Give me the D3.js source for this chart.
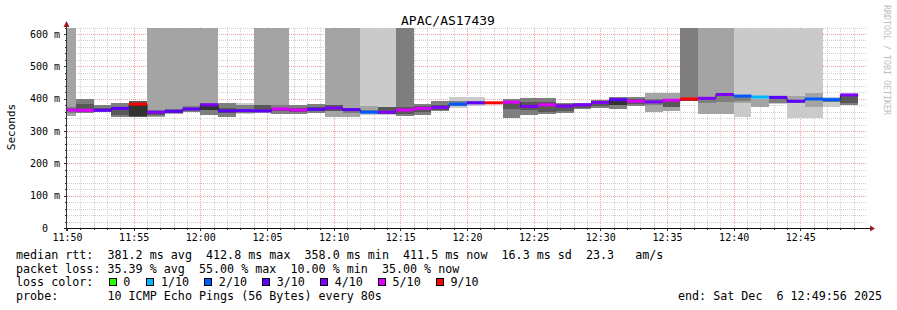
<!doctype html>
<html>
<head>
<meta charset="utf-8">
<script src="https://cdn.jsdelivr.net/npm/d3@7"></script>
<style>
  body {margin:0; background:#fff;}
  svg {display:block;}
  text {font-family:"DejaVu Sans Mono", monospace; fill:#000;}
  .pre {white-space:pre;}
</style>
</head>
<body>
<svg width="897" height="310"></svg>
<script>
// one sample every 80 s, the first one ends at 11:50:40
var median = [365, 364, 364, 370, 383, 358, 361, 368, 381, 362,
              363, 362, 368, 365, 367, 371, 366, 358, 358, 365,
              370, 373, 383, 387, 387, 389, 376, 381, 377, 381,
              388, 397, 392, 390, 395, 399, 401, 412.8, 408, 405,
              404, 392, 399, 397, 411.5];
var loss = [5, 5, 3, 3, 9, 4, 3, 3, 4, 3,
            3, 3, 5, 5, 3, 4, 3, 2, 4, 5,
            5, 4, 2, 3, 9, 5, 4, 5, 4, 4,
            4, 3, 5, 4, 5, 9, 4, 4, 2, 1,
            3, 3, 2, 2, 4];
// smoke bands per sample: [band, low ms, high ms]; band 0 is the outer one
var smoke = [
  [[1,345,700],[2,355,375]],
  [[2,357,399],[3,360,383]],
  [[2,358,380],[3,362,370]],
  [[2,344,388],[3,348,372]],
  [[3,342,394],[4,345,384]],
  [[1,342,700],[2,346,365],[3,350,362]],
  [[1,352,700],[2,355,369],[3,357,366]],
  [[1,358,700],[2,360,378]],
  [[1,349,700],[2,349,388],[4,366,380]],
  [[2,342,388],[3,355,372]],
  [[0,353,388],[2,357,380]],
  [[1,355,700],[3,358,381]],
  [[1,353,700],[2,353,381],[3,362,372]],
  [[2,352,380],[3,358,372]],
  [[2,356,383],[3,362,375]],
  [[1,342,700],[3,362,380]],
  [[1,342,700],[2,355,372]],
  [[0,350,700],[1,355,377],[2,357,365]],
  [[0,350,700],[3,354,373]],
  [[2,347,700],[3,352,375]],
  [[2,348,384],[3,358,378]],
  [[2,361,392],[3,366,380]],
  [[0,372,406],[2,376,392]],
  [[0,376,405],[2,383,392]],
  [],
  [[2,340,400],[3,368,393]],
  [[2,350,402],[3,365,390]],
  [[2,352,402],[3,360,390]],
  [[2,356,388],[3,362,382]],
  [[2,368,388],[3,372,384]],
  [[2,370,396],[3,378,392]],
  [[2,368,404],[4,380,398]],
  [[2,378,406],[3,384,400]],
  [[1,360,418],[2,380,400]],
  [[1,361,418],[3,373,400]],
  [[2,392,700],[3,394,402]],
  [[1,353,700],[2,388,405]],
  [[1,353,700],[2,390,408]],
  [[0,344,700],[1,385,410],[2,392,407]],
  [[0,375,700],[1,375,400]],
  [[0,383,700],[2,388,402]],
  [[0,340,700],[1,385,408],[2,388,396]],
  [[0,340,700],[1,375,418],[2,395,402]],
  [[0,375,405],[2,390,400]],
  [[2,381,412],[3,388,408]]
];
var lossLevels = [0, 1, 2, 3, 4, 5, 9];
var lossLabels = ["0", "1/10", "2/10", "3/10", "4/10", "5/10", "9/10"];
var lossColors = ["#26ff00", "#00b8ff", "#0059ff", "#5e00ff", "#7e00ff", "#dd00ff", "#ff0000"];
var smokeShades = ["#cacaca", "#a4a4a4", "#7e7e7e", "#585858", "#323232"];
var yTicks = [0, 100, 200, 300, 400, 500, 600];
var xTicks = ["11:50","11:55","12:00","12:05","12:10","12:15","12:20","12:25","12:30","12:35","12:40","12:45"];
var statLines = [
  "median rtt:  381.2 ms avg  412.8 ms max  358.0 ms min  411.5 ms now  16.3 ms sd  23.3   am/s",
  "packet loss: 35.39 % avg  55.00 % max  10.00 % min  35.00 % now"
];
var probeText = "probe:       10 ICMP Echo Pings (56 Bytes) every 80s";
var endText = "end: Sat Dec  6 12:49:56 2025";

var svg = d3.select("svg");
var day = function(h, m, s) { return new Date(2025, 11, 6, h, m, s || 0); };
var x = d3.scaleTime().domain([day(11,50), day(12,50)]).range([67, 867]).clamp(true);
var y = d3.scaleLinear().domain([0, 620]).range([228, 27.5]).clamp(true);
var step = 80000, firstEnd = day(11,50,40);
var samples = median.map(function(m, i) {
  var end = new Date(+firstEnd + i * step);
  return {start: new Date(+end - step), end: end, median: m, loss: loss[i], smoke: smoke[i]};
});
function lossColor(l) {
  var k = 0;
  lossLevels.forEach(function(v, i) { if (l >= v) k = i; });
  return lossColors[k];
}

// grid
var grid = svg.append("g");
var minutes = d3.timeMinute.range(day(11,51), day(12,50));
grid.selectAll("line.vmin").data(minutes.filter(function(d){ return d.getMinutes() % 5; }))
  .enter().append("line")
  .attr("x1", function(d){ return Math.round(x(d)) + 0.5; }).attr("x2", function(d){ return Math.round(x(d)) + 0.5; })
  .attr("y1", y(0)).attr("y2", y(620))
  .attr("stroke", "#cfcfcf").attr("stroke-dasharray", "1,1");
var ySmall = d3.range(20, 621, 20);
grid.selectAll("line.hmin").data(ySmall.filter(function(d){ return d % 100; }))
  .enter().append("line")
  .attr("x1", 67).attr("x2", 867)
  .attr("y1", function(d){ return Math.round(y(d)) + 0.5; }).attr("y2", function(d){ return Math.round(y(d)) + 0.5; })
  .attr("stroke", "#cfcfcf").attr("stroke-dasharray", "1,1");
grid.selectAll("line.vmaj").data(minutes.filter(function(d){ return d.getMinutes() % 5 === 0; }))
  .enter().append("line")
  .attr("x1", function(d){ return Math.round(x(d)) + 0.5; }).attr("x2", function(d){ return Math.round(x(d)) + 0.5; })
  .attr("y1", y(0)).attr("y2", y(620))
  .attr("stroke", "#eda3a3").attr("stroke-dasharray", "1,1");
grid.selectAll("line.hmaj").data(yTicks.slice(1))
  .enter().append("line")
  .attr("x1", 67).attr("x2", 867)
  .attr("y1", function(d){ return Math.round(y(d)) + 0.5; }).attr("y2", function(d){ return Math.round(y(d)) + 0.5; })
  .attr("stroke", "#eda3a3").attr("stroke-dasharray", "1,1");

// smoke
var plot = svg.append("g").attr("shape-rendering", "crispEdges");
samples.forEach(function(s) {
  s.smoke.slice().sort(function(a, b){ return a[0] - b[0]; }).forEach(function(b) {
    plot.append("rect")
      .attr("x", x(s.start)).attr("width", x(s.end) - x(s.start))
      .attr("y", y(b[2])).attr("height", y(b[1]) - y(b[2]))
      .attr("fill", smokeShades[b[0]]);
  });
});

// median: dark step line, then the loss coloured band
var pts = [];
samples.forEach(function(s) { pts.push([s.start, s.median], [s.end, s.median]); });
svg.append("path")
  .attr("d", d3.line().x(function(d){ return x(d[0]); }).y(function(d){ return y(d[1]); })(pts))
  .attr("fill", "none").attr("stroke", "#202020").attr("stroke-width", 1);
svg.append("g").selectAll("rect").data(samples).enter().append("rect")
  .attr("x", function(d){ return x(d.start); })
  .attr("width", function(d){ return x(d.end) - x(d.start); })
  .attr("y", function(d){ return y(d.median) - 1.5; })
  .attr("height", 3)
  .attr("fill", function(d){ return lossColor(d.loss); });

// axes
var yAxis = svg.append("g").attr("transform", "translate(67,0)")
  .call(d3.axisLeft(y).tickValues(yTicks).tickSize(0).tickPadding(7)
    .tickFormat(function(d){ return d === 0 ? "0  " : d + " m"; }));
yAxis.select(".domain").remove();
yAxis.selectAll("text").attr("class", "pre").attr("xml:space", "preserve").style("font-size", "10px");

var parseHM = d3.timeParse("%H:%M");
var xAxis = svg.append("g").attr("transform", "translate(0,228)")
  .call(d3.axisBottom(x).tickValues(xTicks.map(function(t){ var p = parseHM(t); return day(p.getHours(), p.getMinutes()); }))
    .tickSize(0).tickPadding(6).tickFormat(d3.timeFormat("%H:%M")));
xAxis.select(".domain").remove();
xAxis.selectAll("text").style("font-size", "10px");

// small ticks on the axes
svg.append("g").selectAll("line").data(minutes.concat([day(11,50)])).enter().append("line")
  .attr("x1", function(d){ return Math.round(x(d)) + 0.5; }).attr("x2", function(d){ return Math.round(x(d)) + 0.5; })
  .attr("y1", 228).attr("y2", function(d){ return d.getMinutes() % 5 ? 230 : 231; })
  .attr("stroke", "#333");
svg.append("g").selectAll("line").data(ySmall).enter().append("line")
  .attr("y1", function(d){ return Math.round(y(d)) + 0.5; }).attr("y2", function(d){ return Math.round(y(d)) + 0.5; })
  .attr("x1", function(d){ return d % 100 ? 65 : 64; }).attr("x2", 67)
  .attr("stroke", "#333");

svg.append("line").attr("x1", 64).attr("x2", 870).attr("y1", 228.5).attr("y2", 228.5).attr("stroke", "#111");
svg.append("line").attr("x1", 66.5).attr("x2", 66.5).attr("y1", 231).attr("y2", 24).attr("stroke", "#2c3a36");
svg.append("path").attr("d", "M870,225.5L875,228.5L870,231.5Z").attr("fill", "#9c1c1c");
svg.append("path").attr("d", "M63.5,27L66.5,21L69.5,27Z").attr("fill", "#9c1c1c");

// titles
svg.append("text").attr("x", 448).attr("y", 25).attr("text-anchor", "middle")
  .style("font-size", "13px").text("APAC/AS17439");
svg.append("text").attr("transform", "translate(15,127) rotate(-90)").attr("text-anchor", "middle")
  .style("font-size", "11px").text("Seconds");
svg.append("text").attr("transform", "translate(884,5) rotate(90)")
  .style("font-size", "8.3px").style("fill", "#bdbdbd").text("RRDTOOL / TOBI OETIKER");

// legend
var leg = svg.append("g").style("font-size", "11.7px");
statLines.forEach(function(t, i) {
  leg.append("text").attr("class", "pre").attr("xml:space", "preserve")
    .attr("x", 16).attr("y", 259 + i * 13.5).text(t);
});
leg.append("text").attr("x", 16).attr("y", 286).text("loss color:");
var bx = 108.5;
lossLabels.forEach(function(l, i) {
  leg.append("rect").attr("x", Math.round(bx) + 0.5).attr("y", 278.5).attr("width", 7).attr("height", 7)
    .attr("fill", lossColors[i]).attr("stroke", "#000");
  leg.append("text").attr("x", bx + 14.7).attr("y", 286).text(l);
  bx += 14.7 + l.length * 7.05 + (i === 0 ? 16 : 15);
});
leg.append("text").attr("class", "pre").attr("xml:space", "preserve")
  .attr("x", 16).attr("y", 299.5).text(probeText);
leg.append("text").attr("class", "pre").attr("xml:space", "preserve")
  .attr("x", 678).attr("y", 299.5).text(endText);
</script>
</body>
</html>
